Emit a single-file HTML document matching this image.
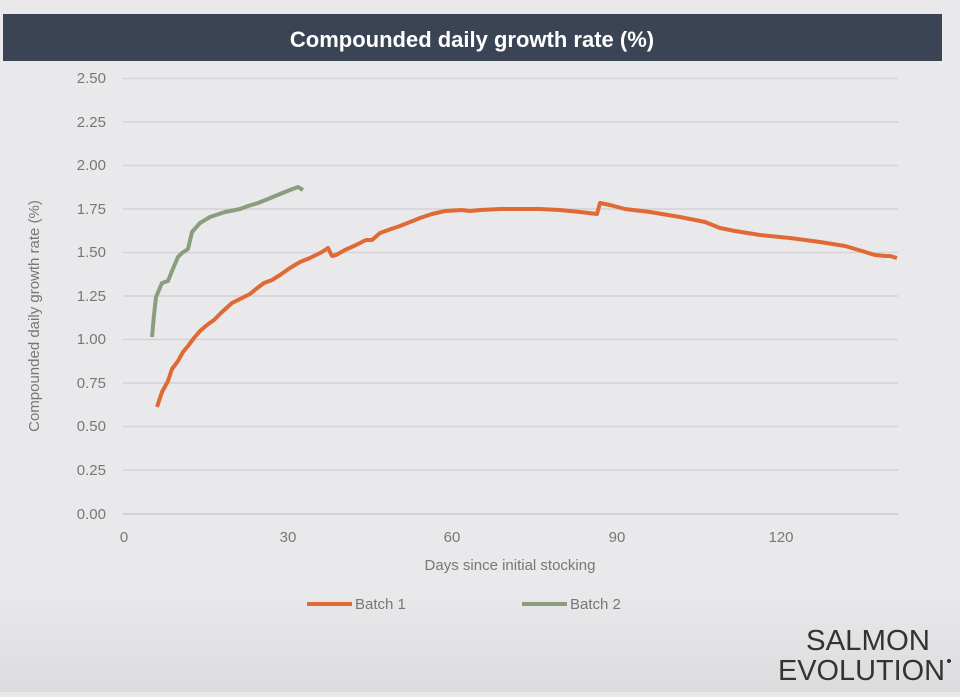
<!DOCTYPE html>
<html><head><meta charset="utf-8"><style>
body{margin:0;width:960px;height:692px;background:#e9e9eb;overflow:hidden;font-family:"Liberation Sans",sans-serif}
</style></head><body>
<svg width="960" height="692" viewBox="0 0 960 692" xmlns="http://www.w3.org/2000/svg">
<defs><linearGradient id="bg" x1="0" y1="0" x2="0" y2="1"><stop offset="0.85" stop-color="#e9e9eb"/><stop offset="1" stop-color="#dcdcde"/></linearGradient></defs>
<rect width="960" height="692" fill="url(#bg)"/>
<rect x="3" y="14" width="939" height="47" fill="#3a4454"/>
<text x="472" y="47" text-anchor="middle" font-size="22" font-weight="bold" fill="#ffffff">Compounded daily growth rate (%)</text>
<g stroke="#d3d3d6" stroke-width="1.5">
<line x1="123" y1="78.5" x2="898" y2="78.5"/><line x1="123" y1="122" x2="898" y2="122"/>
<line x1="123" y1="165.5" x2="898" y2="165.5"/><line x1="123" y1="209" x2="898" y2="209"/>
<line x1="123" y1="252.5" x2="898" y2="252.5"/><line x1="123" y1="296" x2="898" y2="296"/>
<line x1="123" y1="339.5" x2="898" y2="339.5"/><line x1="123" y1="383" x2="898" y2="383"/>
<line x1="123" y1="426.5" x2="898" y2="426.5"/><line x1="123" y1="470" x2="898" y2="470"/>
</g>
<line x1="123" y1="514" x2="898" y2="514" stroke="#c8c8cb" stroke-width="1.5"/>
<g font-size="15" fill="#777" text-anchor="end">
<text x="106" y="83">2.50</text><text x="106" y="127">2.25</text><text x="106" y="170">2.00</text>
<text x="106" y="214">1.75</text><text x="106" y="257">1.50</text><text x="106" y="301">1.25</text>
<text x="106" y="344">1.00</text><text x="106" y="388">0.75</text><text x="106" y="431">0.50</text>
<text x="106" y="475">0.25</text><text x="106" y="519">0.00</text>
</g>
<g font-size="15" fill="#777" text-anchor="middle">
<text x="124" y="542">0</text><text x="288" y="542">30</text><text x="452" y="542">60</text>
<text x="617" y="542">90</text><text x="781" y="542">120</text>
</g>
<text x="510" y="570" text-anchor="middle" font-size="15" fill="#777">Days since initial stocking</text>
<text transform="translate(39,316) rotate(-90)" text-anchor="middle" font-size="15" fill="#777">Compounded daily growth rate (%)</text>
<polyline fill="none" stroke="#e06a35" stroke-width="4" stroke-linejoin="round" points="157,407 162,392 168,381 172,369 178,361 183,352 188,346 194,338 200,331 207,325 214,320 222,312 232,303 240,299 250,294 256,289 264,283 272,280 280,275 290,268 300,262 310,258 322,252 328,248 332,256 336,255 345,250 356,245 366,240 372,240 380,233 391,229 400,226 410,222 420,218 432,214 445,211 462,210 470,211 480,210 500,209 520,209 540,209 560,210 580,212 597,214 600,203 610,205 625,209 650,212 680,217 705,222 720,228 735,231 760,235 790,238 820,242 845,246 862,251 875,255 885,256 890,256 897,258"/>
<polyline fill="none" stroke="#8a9e7e" stroke-width="4" stroke-linejoin="round" points="152,337 154,315 156,297 162,283 168,281 172,271 178,257 182,253 188,249 192,232 200,223 210,217 225,212 240,209 248,206 258,203 268,199 280,194 290,190 298,187 303,190"/>
<line x1="307" y1="604" x2="352" y2="604" stroke="#e06a35" stroke-width="4"/>
<text x="355" y="609" font-size="15" fill="#777">Batch 1</text>
<line x1="522" y1="604" x2="567" y2="604" stroke="#8a9e7e" stroke-width="4"/>
<text x="570" y="609" font-size="15" fill="#777">Batch 2</text>
<g font-size="29" fill="#333" font-family="'Liberation Sans',sans-serif" textLength="0">
<text x="806" y="650" textLength="124" lengthAdjust="spacingAndGlyphs">SALMON</text>
<text x="778" y="680" textLength="167" lengthAdjust="spacingAndGlyphs">EVOLUTION</text>
</g>
<circle cx="949" cy="661" r="2" fill="#333"/>
</svg>
</body></html>
